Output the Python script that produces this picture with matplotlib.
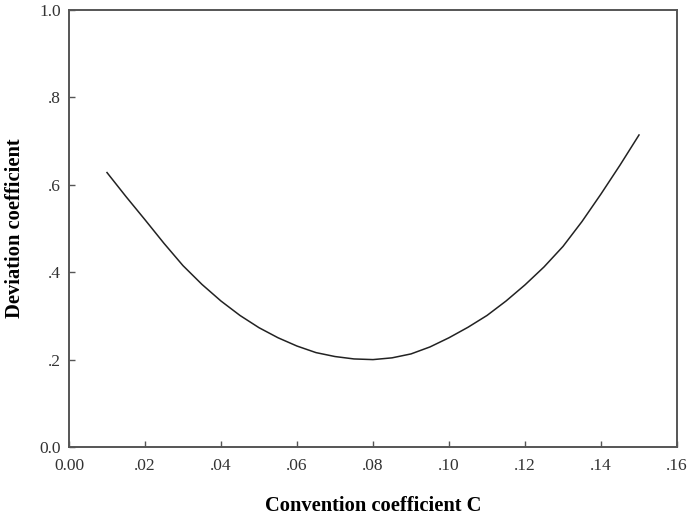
import matplotlib
matplotlib.use("Agg")
import matplotlib.pyplot as plt

convention_c = [0.010, 0.015, 0.020, 0.025, 0.030, 0.035, 0.040, 0.045, 0.050, 0.055,
                0.060, 0.065, 0.070, 0.075, 0.080, 0.085, 0.090, 0.095, 0.100, 0.105,
                0.110, 0.115, 0.120, 0.125, 0.130, 0.135, 0.140, 0.145, 0.150]
deviation = [0.628, 0.573, 0.520, 0.466, 0.415, 0.372, 0.334, 0.301, 0.273, 0.250,
             0.231, 0.216, 0.207, 0.2015, 0.200, 0.204, 0.213, 0.229, 0.250, 0.274,
             0.301, 0.334, 0.371, 0.412, 0.459, 0.516, 0.579, 0.645, 0.714]

x_ticks = [0.00, 0.02, 0.04, 0.06, 0.08, 0.10, 0.12, 0.14, 0.16]
x_tick_labels = ["0.00", ".02", ".04", ".06", ".08", ".10", ".12", ".14", ".16"]
y_ticks = [0.0, 0.2, 0.4, 0.6, 0.8, 1.0]
y_tick_labels = ["0.0", ".2", ".4", ".6", ".8", "1.0"]

plt.rcParams['font.family'] = ['Liberation Serif', 'DejaVu Serif']

fig = plt.figure(figsize=(6.92, 5.19), dpi=100)
ax = fig.add_axes([69/692, 72/519, 608/692, 437/519])

ax.plot(convention_c, deviation, color='#222222', linewidth=1.1, solid_joinstyle='round')

ax.set_xlim(0, 0.16)
ax.set_ylim(0, 1.0)
ax.set_xticks(x_ticks)
ax.set_xticklabels(x_tick_labels)
ax.set_yticks(y_ticks)
ax.set_yticklabels(y_tick_labels)

ax.tick_params(axis='both', direction='in', length=4.5, width=1.0, color='#555555',
               labelsize=12.5, labelcolor='#333333')
ax.tick_params(axis='x', pad=8)
ax.tick_params(axis='y', pad=6)

for s in ax.spines.values():
    s.set_color('#555555')
    s.set_linewidth(1.4)

ax.set_xlabel("Convention coefficient C", fontsize=14.8, fontweight='bold', labelpad=16)
ax.set_ylabel("Deviation coefficient", fontsize=14.8, fontweight='bold', labelpad=10)

fig.savefig("out.png", dpi=100)
